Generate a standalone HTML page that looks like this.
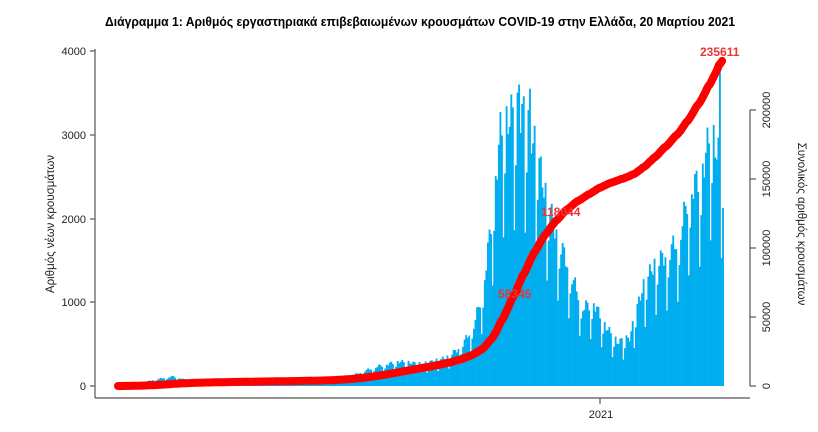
<!DOCTYPE html>
<html><head><meta charset="utf-8"><style>
body{margin:0;background:#fff;}
svg{display:block;font-family:"Liberation Sans",sans-serif;}
</style></head><body>
<svg id="s" width="818" height="432" xmlns="http://www.w3.org/2000/svg">
<text x="420" y="26" text-anchor="middle" font-size="12.5" font-weight="bold" fill="#000" textLength="630" lengthAdjust="spacingAndGlyphs">Διάγραμμα 1: Αριθμός εργαστηριακά επιβεβαιωμένων κρουσμάτων COVID-19 στην Ελλάδα, 20 Μαρτίου 2021</text>
<g id="bars"></g>
<g stroke="#555" stroke-width="1.2" fill="none">
<line x1="95" y1="49" x2="95" y2="398"/>
<line x1="95" y1="398" x2="750" y2="398"/>
<line x1="90" y1="51" x2="95" y2="51"/><line x1="90" y1="135" x2="95" y2="135"/><line x1="90" y1="219" x2="95" y2="219"/><line x1="90" y1="302" x2="95" y2="302"/><line x1="90" y1="386" x2="95" y2="386"/>
<line x1="750" y1="110" x2="750" y2="386"/>
<line x1="750" y1="110" x2="756" y2="110"/><line x1="750" y1="179" x2="756" y2="179"/><line x1="750" y1="248" x2="756" y2="248"/><line x1="750" y1="317" x2="756" y2="317"/><line x1="750" y1="386" x2="756" y2="386"/>
<line x1="600" y1="398" x2="600" y2="404"/>
</g>
<g font-size="11" fill="#222" text-anchor="end">
<text x="86" y="55">4000</text><text x="86" y="139">3000</text><text x="86" y="223">2000</text><text x="86" y="306">1000</text><text x="86" y="390">0</text>
</g>
<g font-size="11" fill="#222" text-anchor="middle">
<text transform="translate(770,110) rotate(-90)">200000</text>
<text transform="translate(770,179) rotate(-90)">150000</text>
<text transform="translate(770,248) rotate(-90)">100000</text>
<text transform="translate(770,317) rotate(-90)">50000</text>
<text transform="translate(770,386) rotate(-90)">0</text>
<text x="601" y="418">2021</text>
<text transform="translate(54,224) rotate(-90)" font-size="11.5">Αριθμός νέων κρουσμάτων</text>
<text transform="translate(798,224) rotate(90)" font-size="11.5">Συνολικός αριθμός κρουσμάτων</text>
</g>
<path id="red" fill="none" stroke="#f00" stroke-width="8" stroke-linecap="round" stroke-linejoin="round"/>
<g font-size="12" fill="#e33" font-weight="bold">
<text x="700" y="56">235611</text>
<text x="541" y="216">118044</text>
<text x="498" y="298">58345</text>
</g>
</svg>
<script>
var k=[[0,5],[15,40],[25,80],[35,110],[45,60],[60,30],[100,20],[130,30],[150,120],[165,220],[180,280],[195,250],[210,320],[220,450],[228,700],[234,1100],[240,2000],[245,2900],[252,3100],[260,3100],[268,2700],[275,2100],[282,1700],[290,1300],[298,900],[305,950],[312,700],[320,500],[328,550],[336,1100],[344,1400],[352,1500],[360,1700],[366,2200],[374,2400],[380,2900],[388,2500]];
function f(d){for(var i=0;i<k.length-1;i++){if(d<=k[i+1][0]){var t=(d-k[i][0])/(k[i+1][0]-k[i][0]);return k[i][1]+t*(k[i+1][1]-k[i][1]);}}return k[k.length-1][1];}
var N=389,x0=118,dx=1.557,h='',vals=[],sum=0;
for(var d=0;d<N;d++){var v=f(d);var w=d%7;var m=(w==2)?0.6:(w==3?0.85:1.05+0.08*Math.sin(d*1.7));v*=m;if(d==257)v=3600;if(d==264)v=3550;if(d==386)v=3900;vals.push(v);sum+=v;}
for(var d=0;d<N;d++){var v=vals[d];var y=386-v*0.08375;h+='<rect x="'+(x0+d*dx).toFixed(2)+'" y="'+y.toFixed(1)+'" width="'+(dx+0.3).toFixed(2)+'" height="'+(386-y).toFixed(1)+'" fill="#00aeef"/>';}
document.getElementById('bars').innerHTML=h;
var c=0,p='';for(var d=0;d<N;d++){c+=vals[d]*235611/sum;var y=386-c*0.00138;p+=(d?'L':'M')+(x0+d*dx).toFixed(1)+' '+y.toFixed(1);}
document.getElementById('red').setAttribute('d',p);
</script>
</body></html>
